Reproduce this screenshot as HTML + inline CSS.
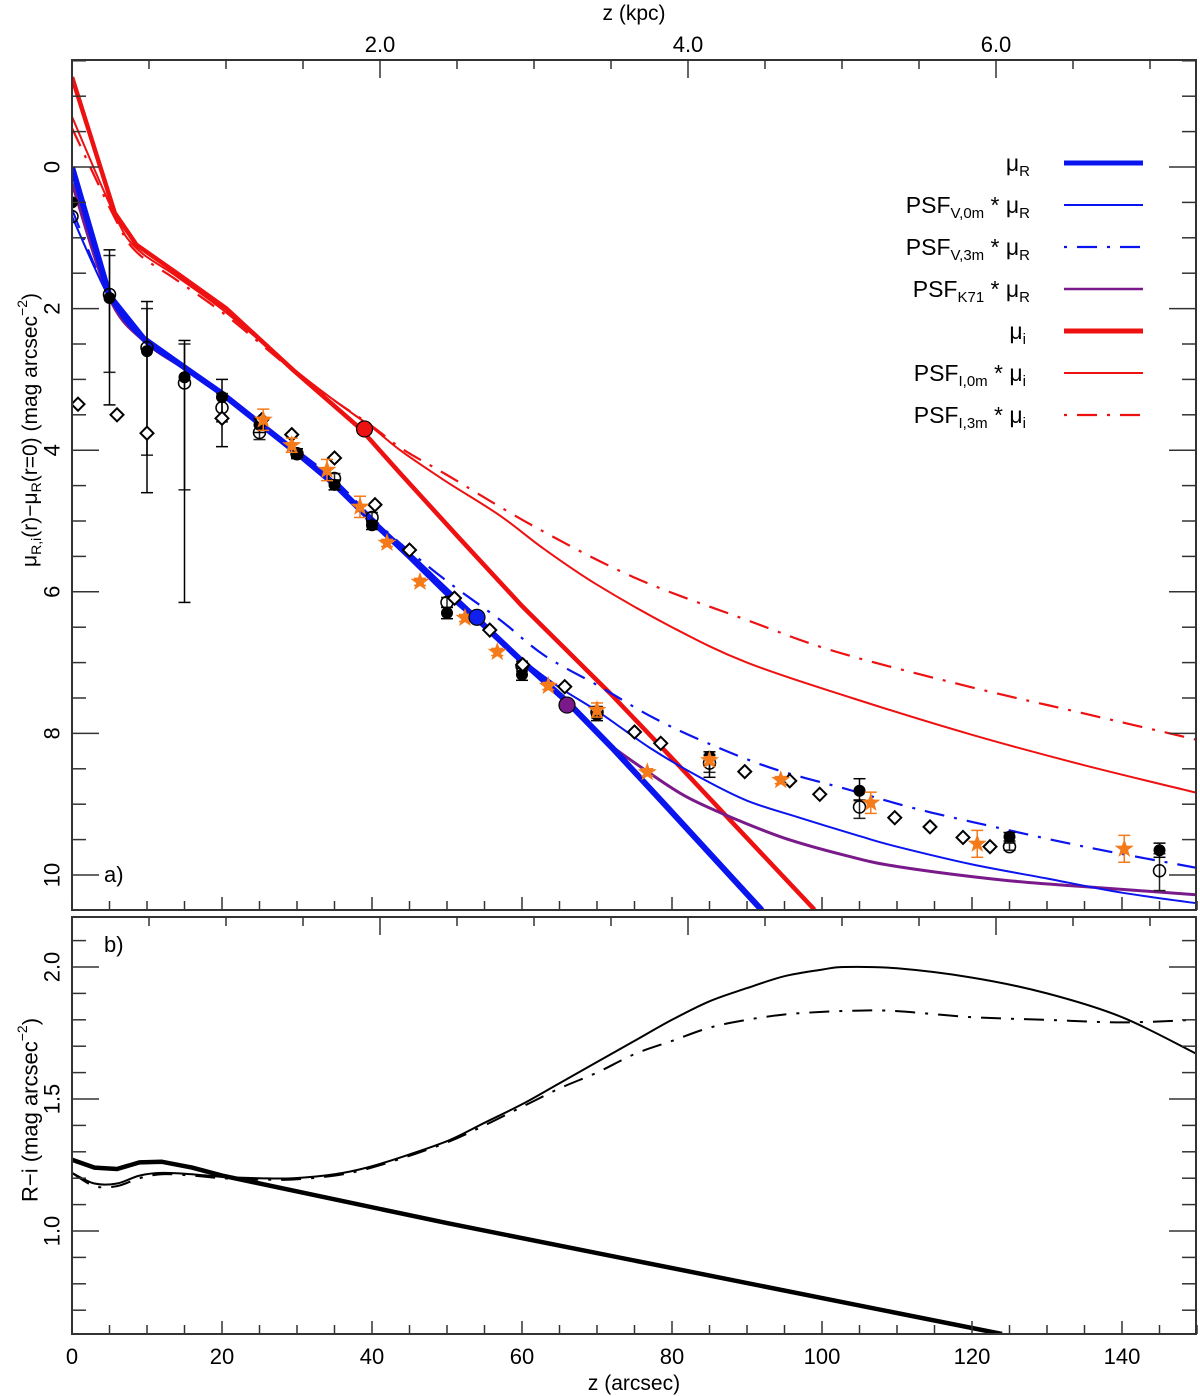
<!DOCTYPE html>
<html><head><meta charset="utf-8">
<style>
html,body{margin:0;padding:0;background:#fff;}
svg{display:block;font-family:"Liberation Sans",sans-serif;}
</style></head>
<body>
<svg id="chart" width="1200" height="1396" viewBox="0 0 1200 1396" xmlns="http://www.w3.org/2000/svg" style="position:absolute;left:0;top:0">
<defs>
<clipPath id="clipA"><rect x="72" y="60" width="1124" height="850"/></clipPath>
<clipPath id="clipB"><rect x="72" y="917" width="1124" height="417"/></clipPath>
</defs>
<g id="gA"></g>
<g id="gB"></g>
<g id="gAx"></g>
</svg>
<script>
// ---------- data (arcsec, mag) ----------
const muR_x = [0,5,9.5,15,20,25,30,35,40,45,50,54,60,66,72,79,92];
const muR_y = [0,1.82,2.42,2.83,3.2,3.62,4.04,4.48,5.0,5.5,6.02,6.38,6.98,7.55,8.2,9.0,10.5];
const psfV0_x = [0,5,9.5,15,20,25,30,35,40,45,50,55,60,65,70.4,77,83.7,90,97,105,110,120,130,140,150];
const psfV0_y = [0.7,1.85,2.45,2.85,3.2,3.62,4.04,4.46,4.97,5.45,5.95,6.45,6.95,7.35,7.71,8.2,8.62,8.95,9.19,9.45,9.6,9.85,10.05,10.25,10.4];
const psfV3_x = [0,5,9.5,15,20,25,30,35,40,43.7,50,57.1,63,70.4,77,83.7,93,103.7,112,120,135,150];
const psfV3_y = [0.6,1.85,2.45,2.85,3.2,3.6,4.0,4.42,4.95,5.31,5.85,6.4,6.9,7.34,7.75,8.09,8.48,8.8,9.05,9.25,9.6,9.9];
const psfK_x = [0,5,9.5,15,20,25,30,35,40,45,50,54,60,66,71,77,82,88,95,103,110,124,137,150];
const psfK_y = [0.23,1.85,2.45,2.85,3.2,3.62,4.04,4.48,5.0,5.5,6.0,6.38,6.98,7.58,8.1,8.56,8.9,9.19,9.48,9.72,9.88,10.07,10.18,10.28];
const muI_x = [0,5.7,8.6,14,20.6,29.5,38.4,43.7,51.7,60,71.7,80,87.7,99];
const muI_y = [-1.27,0.65,1.1,1.5,2.0,2.87,3.69,4.32,5.25,6.2,7.43,8.35,9.22,10.49];
const psfI0_x = [0,5.7,8.6,14,20.6,29.5,35,40,44,50,57,63,70,80,90,104,120,135,150];
const psfI0_y = [-0.71,0.68,1.15,1.55,2.06,2.85,3.3,3.68,4.02,4.45,4.92,5.4,5.9,6.5,7.0,7.5,8.02,8.45,8.84];
const psfI3_x = [0,5.7,8.6,14,20.6,29.5,35,40,44,50,61.5,75,90,102,120,135,150];
const psfI3_y = [-0.55,0.72,1.2,1.6,2.1,2.88,3.3,3.66,3.98,4.35,5.07,5.8,6.4,6.85,7.35,7.72,8.09];

const filled_x = [0,5,10,15,20,25,30,35,40,50,60,70,85,105,125,145];
const filled_y = [0.5,1.85,2.6,2.97,3.25,3.64,4.04,4.49,5.06,6.3,7.17,7.74,8.33,8.81,9.46,9.65];
const filled_lo = [0.5,1.17,1.9,2.45,3.0,3.55,3.98,4.42,5.0,6.22,7.08,7.66,8.26,8.64,9.4,9.55];
const filled_hi = [0.5,3.36,4.6,6.15,3.95,3.75,4.1,4.56,5.12,6.38,7.25,7.82,8.62,8.94,9.52,9.75];
const open_x = [0,5,10,15,20,25,30,35,40,50,60,70,85,105,125,145];
const open_y = [0.7,1.8,2.55,3.05,3.4,3.75,4.05,4.4,4.95,6.15,7.05,7.7,8.42,9.04,9.6,9.94];
const open_lo = [0.7,1.25,2.0,2.5,3.2,3.65,3.98,4.33,4.88,6.08,6.98,7.62,8.3,8.95,9.55,9.7];
const open_hi = [0.7,2.9,4.07,4.56,3.6,3.85,4.12,4.47,5.02,6.22,7.12,7.78,8.55,9.2,9.65,10.22];
const diam_x = [0.8,6,10,20,25.3,29.3,35,40.4,45,51,55.7,60.1,65.7,75,78.5,89.7,95.7,99.7,109.7,114.4,118.8,122.4];
const diam_y = [3.35,3.5,3.76,3.55,3.57,3.78,4.11,4.77,5.41,6.09,6.54,7.03,7.34,7.98,8.14,8.54,8.67,8.86,9.19,9.32,9.47,9.6];
const star_x = [25.5,29.3,34,38.4,42,46.4,52.4,56.7,63.5,70,76.7,85,94.5,106.5,120.7,140.3];
const star_y = [3.57,3.93,4.28,4.8,5.31,5.86,6.37,6.85,7.33,7.67,8.55,8.38,8.66,8.98,9.56,9.63];
const star_err = [0.15,0.1,0.15,0.15,0.05,0.05,0.05,0.05,0.05,0.1,0.05,0.05,0.05,0.15,0.19,0.19];
const bigdot_x = [39,54,66];
const bigdot_y = [3.7,6.36,7.6];
const bigdot_c = ["#ee1111","#1020ee","#7a1a8a"];

// panel b (arcsec, R-i)
const ri_x = [0,3,6,9,12,16,20,50,124];
const ri_y = [1.27,1.24,1.235,1.26,1.262,1.24,1.21,1.03,0.61];
const ri0_x = [0,3,6,9,12,16,20,25,29.5,35,39.3,45,50.4,55,60,65,70,75,80,85,90,95,100,103,110,120,130,140,150];
const ri0_y = [1.22,1.18,1.18,1.21,1.22,1.215,1.205,1.2,1.2,1.215,1.24,1.29,1.345,1.41,1.48,1.56,1.64,1.72,1.8,1.87,1.92,1.965,1.99,2.0,1.995,1.96,1.9,1.81,1.67];
const ri3_x = [0,3,6,9,12,16,20,25,29.5,35,39.3,45,50.4,55,60,65,70,75,80,85,90,95,100,105,110,120,130,140,150];
const ri3_y = [1.22,1.17,1.17,1.2,1.215,1.21,1.2,1.195,1.195,1.21,1.235,1.285,1.34,1.4,1.47,1.54,1.6,1.67,1.72,1.77,1.8,1.82,1.83,1.835,1.833,1.81,1.8,1.79,1.8];

// ---------- axis functions ----------
const X = v => 72 + 7.5*v;
const YA = m => 167 + 70.8*m;
const YB = c => 1231 - 264*(c-1);
const KPC = k => 72 + 154*k;
const NS = "http://www.w3.org/2000/svg";
function mk(tag, attrs, parent){ const e=document.createElementNS(NS,tag); for(const k in attrs) e.setAttribute(k,attrs[k]); parent.appendChild(e); return e; }
const gA=document.getElementById('gA'), gB=document.getElementById('gB'), gAx=document.getElementById('gAx');
const cA = mk('g',{'clip-path':'url(#clipA)'},gA);


const cB = mk('g',{'clip-path':'url(#clipB)'},gB);



function pathD(P, smooth){
  let d='M'+P[0][0].toFixed(1)+','+P[0][1].toFixed(1);
  for(let i=0;i<P.length-1;i++){
    if(!smooth){ d+=' L'+P[i+1][0].toFixed(1)+','+P[i+1][1].toFixed(1); continue; }
    const p0=P[Math.max(0,i-1)], p1=P[i], p2=P[i+1], p3=P[Math.min(P.length-1,i+2)];
    const c1=[p1[0]+(p2[0]-p0[0])/6, p1[1]+(p2[1]-p0[1])/6];
    const c2=[p2[0]-(p3[0]-p1[0])/6, p2[1]-(p3[1]-p1[1])/6];
    d+=' C'+c1[0].toFixed(1)+','+c1[1].toFixed(1)+' '+c2[0].toFixed(1)+','+c2[1].toFixed(1)+' '+p2[0].toFixed(1)+','+p2[1].toFixed(1);
  }
  return d;
}
function line(xs, ys, Yf, color, w, dash, parent, name, smooth){
  const P = xs.map((x,i)=>[X(x),Yf(ys[i])]);
  const p = mk('path',{d:pathD(P,smooth),fill:'none',stroke:color,'stroke-width':w,'stroke-linejoin':'round'},parent);
  if(dash) p.setAttribute('stroke-dasharray',dash);
  
  
}
const BLUE='#0a14ee', RED='#ee1111', PURP='#7a1a8a';
const DD='20,10,3,10';
line(psfI3_x,psfI3_y,YA,RED,2.2,DD,cA,'psf-i-3m-curve',true);
line(psfI0_x,psfI0_y,YA,RED,2,null,cA,'psf-i-0m-curve',true);
line(muI_x,muI_y,YA,RED,4.5,null,cA,'mu-i-curve',false);
line(psfV3_x,psfV3_y,YA,BLUE,2.2,DD,cA,'psf-v-3m-curve',true);
line(psfK_x,psfK_y,YA,PURP,3,null,cA,'psf-k71-curve',true);
line(psfV0_x,psfV0_y,YA,BLUE,2,null,cA,'psf-v-0m-curve',true);
line(muR_x,muR_y,YA,BLUE,6,null,cA,'mu-r-curve',false);

// error bars + markers
function ebar(x, lo, hi, color, parent, name){
  const g = mk('g',{stroke:color,'stroke-width':1.5},parent);
  
  
  mk('line',{x1:X(x),x2:X(x),y1:YA(lo),y2:YA(hi)},g);
  mk('line',{x1:X(x)-6,x2:X(x)+6,y1:YA(lo),y2:YA(lo)},g);
  mk('line',{x1:X(x)-6,x2:X(x)+6,y1:YA(hi),y2:YA(hi)},g);
}
open_x.forEach((x,i)=>{ if(open_hi[i]-open_lo[i]>0.01) ebar(x,open_lo[i],open_hi[i],'#222',cA,'open-point-errorbar'); });
filled_x.forEach((x,i)=>{ if(filled_hi[i]-filled_lo[i]>0.01) ebar(x,filled_lo[i],filled_hi[i],'#000',cA,'filled-point-errorbar'); });
open_x.forEach((x,i)=>{
  const c = mk('circle',{cx:X(x),cy:YA(open_y[i]),r:6,fill:'none',stroke:'#000','stroke-width':1.5},cA);
  
  
});
filled_x.forEach((x,i)=>{
  const c = mk('circle',{cx:X(x),cy:YA(filled_y[i]),r:6,fill:'#000'},cA);
  
  
});
diam_x.forEach((x,i)=>{
  const cx=X(x), cy=YA(diam_y[i]);
  const d = mk('polygon',{points:`${cx},${cy-6.5} ${cx+6.5},${cy} ${cx},${cy+6.5} ${cx-6.5},${cy}`,fill:'#fff',stroke:'#000','stroke-width':2},cA);
  
  
});
function starPts(cx,cy,R,r){ let s=[]; for(let k=0;k<10;k++){ const a=-Math.PI/2+k*Math.PI/5; const rr=k%2?r:R; s.push((cx+rr*Math.cos(a)).toFixed(1)+','+(cy+rr*Math.sin(a)).toFixed(1)); } return s.join(' '); }
star_x.forEach((x,i)=>{
  ebar(x,star_y[i]-star_err[i],star_y[i]+star_err[i],'#f47a1a',cA,'star-errorbar');
  const s = mk('polygon',{points:starPts(X(x),YA(star_y[i]),10,4),fill:'#f47a1a'},cA);
  
  
});
bigdot_x.forEach((x,i)=>{
  const c = mk('circle',{cx:X(x),cy:YA(bigdot_y[i]),r:8,fill:bigdot_c[i],stroke:'#000','stroke-width':1.2},cA);
  
  
});

// panel b
line(ri3_x,ri3_y,YB,'#000',2,DD,cB,'ri-psf-3m-curve',true);
line(ri0_x,ri0_y,YB,'#000',2,null,cB,'ri-psf-0m-curve',true);
line(ri_x,ri_y,YB,'#000',4.5,null,cB,'ri-intrinsic-curve',false);

// ---------- axes ----------
function L(x1,y1,x2,y2,w){ return mk('line',{x1,y1,x2,y2,stroke:'#333','stroke-width':w||1.5},gAx); }
function T(x,y,s,opts){ const t=mk('text',Object.assign({x,y,'font-size':20,fill:'#000','text-anchor':'middle'},opts||{}),gAx); t.textContent=s; return t; }
const fa = mk('rect',{x:72,y:60,width:1124,height:850,fill:'none',stroke:'#333','stroke-width':2},gAx);


const fb = mk('rect',{x:72,y:917,width:1124,height:417,fill:'none',stroke:'#333','stroke-width':2},gAx);


for(let v=0; v<=150; v+=5){
  const maj = v%20===0;
  L(X(v),910,X(v),910-(maj?13:9));
  L(X(v),1334,X(v),1334-(maj?13:9));
}
[0,20,40,60,80,100,120,140].forEach(v=>{
  const t=T(X(v),1364,String(v),{'font-size':22});
  
  
});
for(let k=0.5;k<=7.25;k+=0.5){
  const maj = Math.abs(k%2)<0.01;
  if(KPC(k)>1195) break;
  L(KPC(k),60,KPC(k),60+(maj?18:9));
  L(KPC(k),917,KPC(k),917+(maj?18:9));
}
[2,4,6].forEach(k=>{
  const t=T(KPC(k),52,k.toFixed(1),{'font-size':22});
  
  
});
for(let m=-1.5;m<=10.5;m+=0.5){
  const maj=Math.abs(m%2)<0.01;
  const y=YA(m); if(y<60||y>910) continue;
  L(72,y,72+(maj?27:14),y); L(1196,y,1196-(maj?27:14),y);
}
[0,2,4,6,8,10].forEach(m=>{
  const t=T(52,YA(m),String(m),{'font-size':22,transform:`rotate(-90 52 ${YA(m)})`,'dominant-baseline':'central'});
  
  
});
for(let c=0.7;c<=2.15;c+=0.1){
  const cc=Math.round(c*10)/10; const maj=Math.abs((cc*2)%1)<0.01;
  const y=YB(cc);
  L(72,y,72+(maj?27:14),y); L(1196,y,1196-(maj?27:14),y);
}
[1.0,1.5,2.0].forEach(c=>{
  const t=T(52,YB(c),c.toFixed(1),{'font-size':22,transform:`rotate(-90 52 ${YB(c)})`,'dominant-baseline':'central'});
  
  
});
</script>
<svg width="1200" height="1396" style="position:absolute;left:0;top:0;pointer-events:none">
<text x="634" y="20" font-size="21" text-anchor="middle" font-family="Liberation Sans, sans-serif">z (kpc)</text>
<text x="634" y="1390" font-size="21" text-anchor="middle" font-family="Liberation Sans, sans-serif">z (arcsec)</text>
<text transform="rotate(-90 30 430)" x="30" y="430" font-size="21" text-anchor="middle" dominant-baseline="central" font-family="Liberation Sans, sans-serif">μ<tspan font-size="14" dy="6">R,i</tspan><tspan dy="-6">(r)−μ</tspan><tspan font-size="14" dy="6">R</tspan><tspan dy="-6">(r=0) (mag arcsec</tspan><tspan font-size="14" dy="-8">−2</tspan><tspan dy="8">)</tspan></text>
<text transform="rotate(-90 30 1110)" x="30" y="1110" font-size="22" text-anchor="middle" dominant-baseline="central" font-family="Liberation Sans, sans-serif">R−i (mag arcsec<tspan font-size="14" dy="-8">−2</tspan><tspan dy="8">)</tspan></text>
<text x="104" y="882" font-size="22" font-family="Liberation Sans, sans-serif">a)</text>
<text x="104" y="952" font-size="22" font-family="Liberation Sans, sans-serif">b)</text>
<g font-family="Liberation Sans, sans-serif" font-size="23" text-anchor="end">
 <g><text x="1030" y="171">μ<tspan font-size="15" dy="5">R</tspan></text><line x1="1064" y1="163" x2="1143" y2="163" stroke="#0a14ee" stroke-width="5"/></g>
 <g><text x="1030" y="213">PSF<tspan font-size="15" dy="5">V,0m</tspan><tspan dy="-5"> * μ</tspan><tspan font-size="15" dy="5">R</tspan></text><line x1="1064" y1="205" x2="1143" y2="205" stroke="#0a14ee" stroke-width="2"/></g>
 <g><text x="1030" y="255">PSF<tspan font-size="15" dy="5">V,3m</tspan><tspan dy="-5"> * μ</tspan><tspan font-size="15" dy="5">R</tspan></text><line x1="1064" y1="247" x2="1143" y2="247" stroke="#0a14ee" stroke-width="2.2" stroke-dasharray="3,10,20,10"/></g>
 <g><text x="1030" y="297">PSF<tspan font-size="15" dy="5">K71</tspan><tspan dy="-5"> * μ</tspan><tspan font-size="15" dy="5">R</tspan></text><line x1="1064" y1="289" x2="1143" y2="289" stroke="#7a1a8a" stroke-width="2.5"/></g>
 <g><text x="1026" y="339">μ<tspan font-size="15" dy="5">i</tspan></text><line x1="1064" y1="331" x2="1143" y2="331" stroke="#ee1111" stroke-width="5"/></g>
 <g><text x="1026" y="381">PSF<tspan font-size="15" dy="5">I,0m</tspan><tspan dy="-5"> * μ</tspan><tspan font-size="15" dy="5">i</tspan></text><line x1="1064" y1="373" x2="1143" y2="373" stroke="#ee1111" stroke-width="2"/></g>
 <g><text x="1026" y="423">PSF<tspan font-size="15" dy="5">I,3m</tspan><tspan dy="-5"> * μ</tspan><tspan font-size="15" dy="5">i</tspan></text><line x1="1064" y1="415" x2="1143" y2="415" stroke="#ee1111" stroke-width="2.2" stroke-dasharray="3,10,20,10"/></g>
</g>
</svg>
</body></html>
